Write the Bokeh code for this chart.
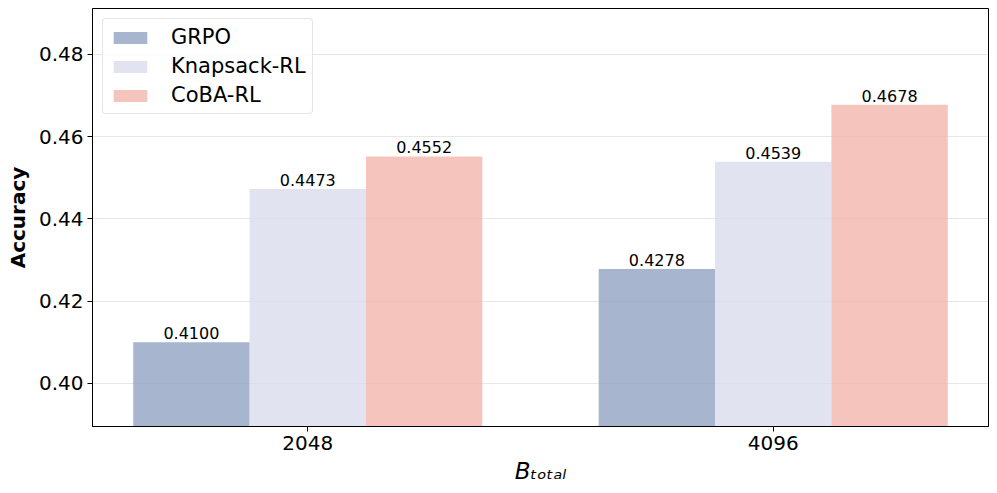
from bokeh.plotting import figure
from bokeh.models import ColumnDataSource, Range1d, FixedTicker, Legend, LegendItem
from bokeh.core.properties import value
from bokeh.embed import file_html
from bokeh.resources import INLINE

categories = ["2048", "4096"]
methods = ["GRPO", "Knapsack-RL", "CoBA-RL"]
grpo = [0.4100, 0.4278]
knapsack = [0.4473, 0.4539]
coba = [0.4552, 0.4678]
y_ticks = [0.40, 0.42, 0.44, 0.46, 0.48]
x_label = "B\u209c\u2092\u209c\u2090\u2097"   # B_total
y_label = "Accuracy"

series = [grpo, knapsack, coba]
colors = ["#91a2c3", "#d9dcec", "#f2b6ac"]
width = 0.25
offsets = [-width, 0.0, width]

all_vals = grpo + knapsack + coba
ymin = min(all_vals) * 0.95
ymax = max(all_vals) * 1.05

FONT = "DejaVu Sans"

p = figure(width=997, height=493, output_backend="svg", toolbar_location=None,
           x_range=Range1d(-0.4625, 1.4625), y_range=Range1d(ymin, ymax),
           min_border_left=92, min_border_right=9, min_border_top=8,
           min_border_bottom=67)

p.outline_line_color = "black"
p.outline_line_width = 1
p.background_fill_color = "white"
p.border_fill_color = "white"

items = []
for i, (name, vals, col) in enumerate(zip(methods, series, colors)):
    xs = [j + offsets[i] for j in range(len(categories))]
    src = ColumnDataSource(dict(x=xs, top=vals,
                                lab=["%.4f" % v for v in vals]))
    r = p.vbar(x="x", top="top", bottom=ymin, width=width, source=src,
               fill_color=col, fill_alpha=0.8, line_color=None)
    p.text(x="x", y="top", text="lab", source=src, text_align="center",
           text_baseline="alphabetic", y_offset=-9,
           text_font=value(FONT), text_font_size="16px", text_color="black")
    items.append(LegendItem(label=name, renderers=[r]))

legend = Legend(items=items, location="top_left")
legend.margin = 10
legend.padding = 6
legend.spacing = 5
legend.glyph_width = 42
legend.glyph_height = 15
legend.label_height = 20
legend.label_standoff = 20
legend.label_text_font = FONT
legend.label_text_font_size = "21px"
legend.label_text_color = "black"
legend.border_line_color = "#cccccc"
legend.border_line_width = 1
legend.background_fill_alpha = 0.8
if "border_radius" in Legend.properties():
    legend.border_radius = 4
p.add_layout(legend, "center")

# axes
p.xaxis.ticker = FixedTicker(ticks=[0, 1])
p.xaxis.major_label_overrides = {0: categories[0], 1: categories[1]}
p.yaxis.ticker = FixedTicker(ticks=y_ticks)
p.yaxis.major_label_overrides = {t: "%.2f" % t for t in y_ticks}
for ax in (p.xaxis, p.yaxis):
    ax.major_label_text_font = FONT
    ax.major_label_text_font_size = "20px"
    ax.major_label_text_color = "black"
    ax.major_tick_out = 5
    ax.major_tick_in = 0
    ax.minor_tick_out = 0
    ax.minor_tick_in = 0
    ax.axis_line_color = "black"
    ax.major_tick_line_color = "black"
    ax.major_label_standoff = 4

p.yaxis.axis_label = y_label
p.yaxis.axis_label_text_font = FONT
p.yaxis.axis_label_text_font_style = "bold"
p.yaxis.axis_label_text_font_size = "20px"
p.yaxis.axis_label_text_color = "black"
p.yaxis.axis_label_standoff = 6

p.xaxis.axis_label = x_label
p.xaxis.axis_label_text_font = FONT
p.xaxis.axis_label_text_font_style = "italic"
p.xaxis.axis_label_text_font_size = "23px"
p.xaxis.axis_label_text_color = "black"
p.xaxis.axis_label_standoff = 5

p.xgrid.grid_line_color = None
p.ygrid.grid_line_color = "#b0b0b0"
p.ygrid.grid_line_alpha = 0.3
p.ygrid.grid_line_width = 1

open("out.html", "w").write(file_html(p, INLINE))
